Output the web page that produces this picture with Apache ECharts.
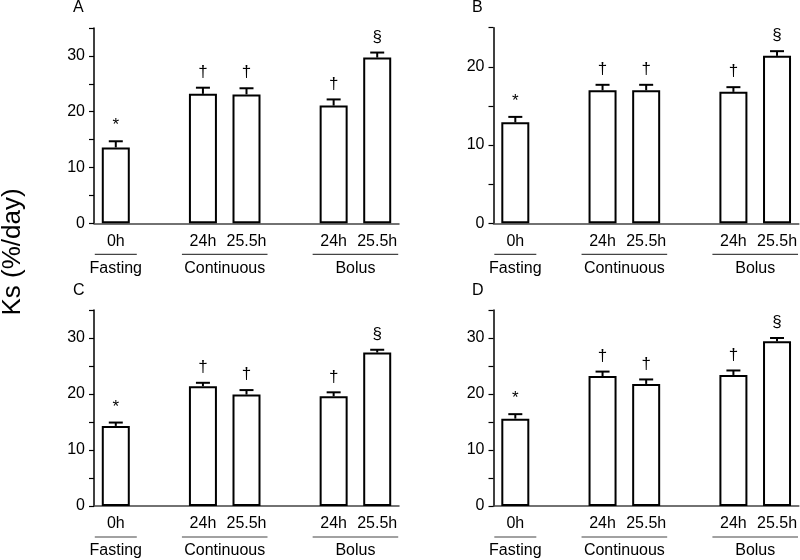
<!DOCTYPE html>
<html>
<head>
<meta charset="utf-8">
<script src="https://cdn.jsdelivr.net/npm/echarts@6/dist/echarts.min.js"></script>
<style>html,body{margin:0;padding:0;background:#fff}#c{width:800px;height:560px}</style>
</head>
<body>
<div id="c"></div>
<script>
// ---- data ----
const categories = ['0h', '', '24h', '25.5h', '', '24h', '25.5h'];
const groupNames = ['Fasting', 'Continuous', 'Bolus'];
const groupStart = [0, 2, 5];
const groupEnd = [0, 3, 6];
const markers = ['*', '', '\u2020', '\u2020', '', '\u2020', '\u00a7'];
const panelLetters = ['A', 'B', 'C', 'D'];
const yMax = [35, 25, 35, 35];

const valuesA = [13.6, null, 23.2, 23.1, null, 21.1, 29.7];
const errorsA = [1.1, null, 1.1, 1.1, null, 1.1, 0.9];
const valuesB = [12.9, null, 17.0, 17.0, null, 16.8, 21.4];
const errorsB = [0.7, null, 0.7, 0.7, null, 0.6, 0.6];
const valuesC = [14.3, null, 21.4, 19.9, null, 19.6, 27.4];
const errorsC = [0.6, null, 0.6, 0.8, null, 0.7, 0.5];
const valuesD = [15.6, null, 23.2, 21.8, null, 23.4, 29.4];
const errorsD = [0.8, null, 0.8, 0.8, null, 0.8, 0.6];

const yAxisTitle = 'Ks (%/day)';

const allValues = [valuesA, valuesB, valuesC, valuesD];
const allErrors = [errorsA, errorsB, errorsC, errorsD];

// ---- layout ----
const FONT = '"Liberation Sans", Arial, Helvetica, sans-serif';
const grids = [
  {left: 94, top: 28, width: 305, height: 195.3},
  {left: 493.5, top: 27.7, width: 306, height: 195.6},
  {left: 94, top: 310, width: 305, height: 196},
  {left: 493.5, top: 310, width: 306, height: 196}
];
const titlePos = [
  {left: 73, top: 0}, {left: 472, top: 0},
  {left: 73, top: 283}, {left: 472, top: 283}
];

const chart = echarts.init(document.getElementById('c'), null, {renderer: 'canvas'});

const option = {
  backgroundColor: '#fff',
  animation: false,
  textStyle: {fontFamily: FONT, color: '#000'},
  title: panelLetters.map((t, i) => ({
    text: t, left: titlePos[i].left, top: titlePos[i].top, padding: 0,
    textStyle: {fontFamily: FONT, fontSize: 16, fontWeight: 'normal', color: '#000'}
  })),
  grid: grids.map(g => Object.assign({containLabel: false}, g)),
  xAxis: grids.map((g, i) => ({
    type: 'category', gridIndex: i, data: categories,
    axisTick: {show: false},
    axisLine: {lineStyle: {color: '#444', width: 1.5}},
    axisLabel: {fontFamily: FONT, fontSize: 16, color: '#000', margin: 10, interval: 0}
  })),
  yAxis: grids.map((g, i) => ({
    type: 'value', gridIndex: i, min: 0, max: yMax[i], interval: 5,
    splitLine: {show: false},
    axisLine: {show: true, lineStyle: {color: '#000', width: 1.5}},
    axisTick: {show: true, length: 5, lineStyle: {color: '#000', width: 1.2}},
    axisLabel: {fontFamily: FONT, fontSize: 16, color: '#000', margin: 9,
      formatter: v => (v % 10 === 0 ? String(v) : '')}
  })),
  series: [],
  graphic: [{
    type: 'text', x: 13, y: 252, rotation: Math.PI / 2,
    style: {text: yAxisTitle, font: '26px ' + FONT, fill: '#000', align: 'center', verticalAlign: 'middle'}
  }]
};

allValues.forEach((vals, i) => {
  const errs = allErrors[i];
  option.series.push({
    type: 'bar', xAxisIndex: i, yAxisIndex: i, barWidth: 28,
    data: vals,
    itemStyle: {color: '#fff', borderColor: '#000', borderWidth: 2}
  });
  const ebData = [];
  vals.forEach((v, k) => { if (v !== null) ebData.push([k, v, errs[k]]); });
  option.series.push({
    type: 'custom', xAxisIndex: i, yAxisIndex: i, clip: false, z: 5,
    data: ebData,
    renderItem: function (params, api) {
      const x = api.value(0), v = api.value(1), e = api.value(2);
      const base = api.coord([x, v]);
      const top = api.coord([x, v + e]);
      return {
        type: 'group',
        children: [
          {type: 'line', shape: {x1: base[0], y1: base[1], x2: top[0], y2: top[1]},
            style: {stroke: '#000', lineWidth: 2}},
          {type: 'line', shape: {x1: top[0] - 7, y1: top[1], x2: top[0] + 7, y2: top[1]},
            style: {stroke: '#000', lineWidth: 2}},
          {type: 'text', x: top[0], y: top[1] - 7,
            style: {text: markers[x], font: '17px ' + FONT, fill: '#000', align: 'center', verticalAlign: 'bottom'}}
        ]
      };
    }
  });
  const gData = groupNames.map((n, k) => [groupStart[k], groupEnd[k], k]);
  option.series.push({
    type: 'custom', xAxisIndex: i, yAxisIndex: i, clip: false, silent: true,
    data: gData,
    renderItem: function (params, api) {
      const s = api.coord([api.value(0), 0]);
      const e = api.coord([api.value(1), 0]);
      const name = groupNames[api.value(2)];
      const x1 = s[0] - 21, x2 = e[0] + 21;
      const y = s[1] + 31;
      return {
        type: 'group',
        children: [
          {type: 'line', shape: {x1: x1, y1: y, x2: x2, y2: y}, style: {stroke: '#444', lineWidth: 1.2}},
          {type: 'text', x: (x1 + x2) / 2, y: y + 14,
            style: {text: name, font: '16px ' + FONT, fill: '#000', align: 'center', verticalAlign: 'middle'}}
        ]
      };
    }
  });
});

chart.setOption(option);
</script>
</body>
</html>
